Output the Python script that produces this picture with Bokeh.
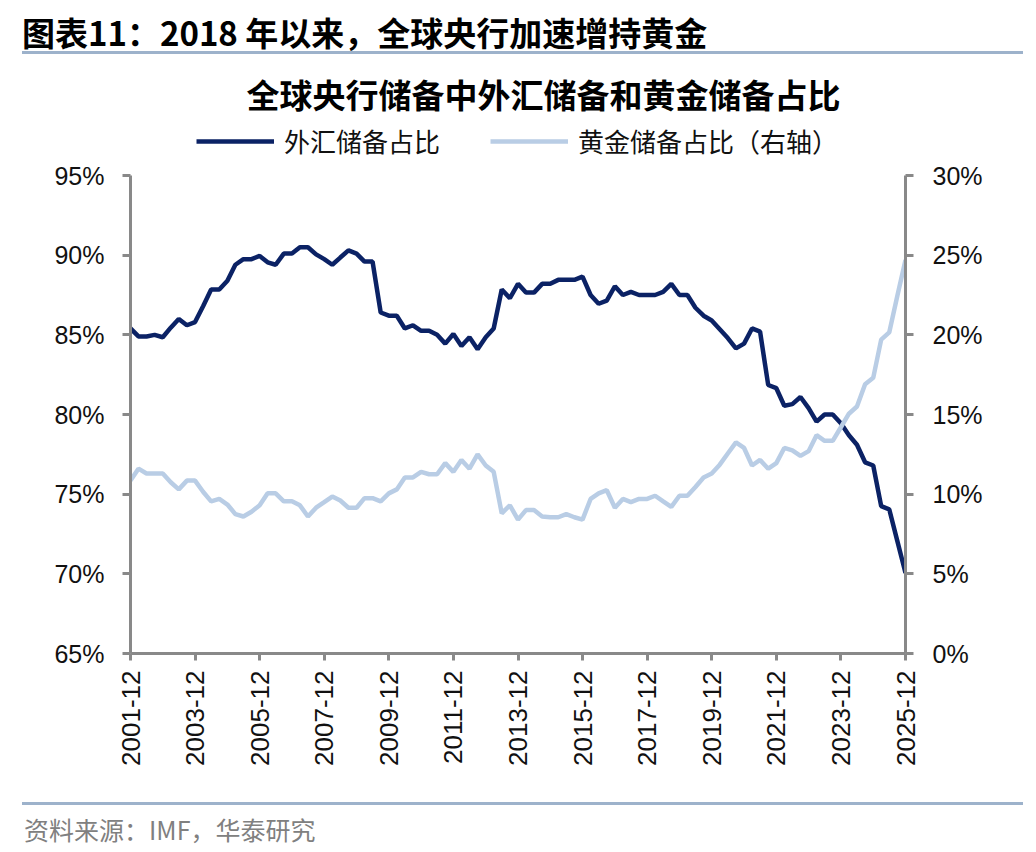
import pandas as pd
from bokeh.plotting import figure
from bokeh.layouts import column
from bokeh.models import (Range1d, LinearAxis, FixedTicker, PrintfTickFormatter,
                          DatetimeTickFormatter, Legend, LegendItem, Label, Div)
from bokeh.embed import file_html
from bokeh.resources import INLINE

# Quarter-end dates, 2001-12 .. 2025-12
dates = pd.date_range("2001-12-31", "2025-12-31", freq="QE")

# Share of FX reserves in central-bank reserves (%, left axis)
fx_share = [
    85.4, 84.9, 84.9, 85.0, 84.85, 85.45, 86.0, 85.6, 85.8, 86.8,
    87.85, 87.85, 88.4, 89.4, 89.75, 89.75, 89.95, 89.55, 89.4, 90.1,
    90.1, 90.5, 90.5, 90.05, 89.75, 89.4, 89.85, 90.3, 90.1, 89.6,
    89.6, 86.4, 86.2, 86.2, 85.4, 85.6, 85.25, 85.25, 85.0, 84.45,
    85.05, 84.3, 84.85, 84.1, 84.85, 85.4, 87.85, 87.3, 88.2, 87.65,
    87.65, 88.2, 88.2, 88.45, 88.45, 88.45, 88.65, 87.5, 86.95, 87.15,
    88.05, 87.5, 87.7, 87.5, 87.5, 87.5, 87.7, 88.2, 87.5, 87.5,
    86.7, 86.2, 85.9, 85.35, 84.8, 84.15, 84.45, 85.4, 85.2, 81.85,
    81.65, 80.55, 80.65, 81.1, 80.4, 79.55, 80.0, 80.0, 79.45, 78.7,
    78.1, 77.0, 76.8, 74.25, 74.05, 72.05, 70.05,
]

# Share of gold in central-bank reserves (%, right axis)
gold_share = [
    10.85, 11.6, 11.3, 11.3, 11.3, 10.75, 10.3, 10.85, 10.85, 10.15,
    9.55, 9.7, 9.35, 8.75, 8.6, 8.9, 9.3, 10.05, 10.05, 9.55,
    9.55, 9.3, 8.6, 9.15, 9.5, 9.85, 9.6, 9.15, 9.15, 9.75,
    9.75, 9.55, 10.05, 10.3, 11.05, 11.05, 11.4, 11.25, 11.25, 11.95,
    11.4, 12.15, 11.6, 12.5, 11.8, 11.4, 8.8, 9.3, 8.4, 9.0,
    9.0, 8.6, 8.55, 8.55, 8.75, 8.55, 8.4, 9.7, 10.05, 10.25,
    9.15, 9.7, 9.5, 9.7, 9.7, 9.9, 9.55, 9.2, 9.9, 9.9,
    10.45, 11.05, 11.3, 11.85, 12.55, 13.25, 12.9, 11.8, 12.15, 11.6,
    11.95, 12.9, 12.75, 12.4, 12.7, 13.7, 13.35, 13.35, 14.2, 15.05,
    15.5, 16.9, 17.3, 19.7, 20.15, 22.45, 24.7,
]

left_ticks = [65, 70, 75, 80, 85, 90, 95]
right_ticks = [0, 5, 10, 15, 20, 25, 30]

fx_name = "外汇储备占比"
gold_name = "黄金储备占比（右轴）"
heading = "图表11：2018 年以来，全球央行加速增持黄金"
chart_title = "全球央行储备中外汇储备和黄金储备占比"
source_note = "资料来源：IMF，华泰研究"

NAVY = "#0b2265"
LIGHT = "#b9cde5"
AXIS = "#898989"
RULE = "#9db2cb"
CJK = "Noto Sans CJK SC"
LATIN = "Liberation Sans"
W = 1036
HEAD_H, FOOT_H = 62, 62

# plot geometry (px): axes occupy AXIS_H, with a headroom band above them
# inside the frame that holds the chart title and the legend
AXIS_H = 478
HEADROOM = 113
FRAME_H = AXIS_H + HEADROOM

L_LO, L_HI = left_ticks[0], left_ticks[-1]
R_LO, R_HI = right_ticks[0], right_ticks[-1]
l_top = L_HI + (L_HI - L_LO) * HEADROOM / AXIS_H
r_top = R_HI + (R_HI - R_LO) * HEADROOM / AXIS_H

# ---- heading strip: report caption with a rule beneath it
head = Div(width=W, height=HEAD_H, margin=0, text=f"""
<div style="position:relative;width:{W}px;height:{HEAD_H}px;font-family:'{CJK}';">
  <div style="position:absolute;left:22px;top:12px;font-size:33px;font-weight:bold;
              line-height:40px;color:#000;white-space:nowrap;">{heading}</div>
  <div style="position:absolute;left:22px;top:51px;width:1001px;height:3px;
              background:{RULE};"></div>
</div>""")

# ---- main chart
p = figure(frame_width=775, frame_height=FRAME_H, x_axis_type="datetime", title=None,
           output_backend="svg", toolbar_location=None,
           min_border_left=130, min_border_right=131,
           min_border_top=0, min_border_bottom=137,
           x_range=Range1d(dates[0], dates[-1]),
           y_range=Range1d(L_LO, l_top))
p.outline_line_color = None
p.grid.visible = False
p.extra_y_ranges = {"gold": Range1d(R_LO, r_top)}

r_fx = p.line(dates, fx_share, line_color=NAVY, line_width=4.5)
r_gold = p.line(dates, gold_share, line_color=LIGHT, line_width=4.5,
                y_range_name="gold")


def style_axis(ax, standoff, size):
    ax.axis_line_color = AXIS
    ax.axis_line_width = 3
    ax.major_tick_line_color = AXIS
    ax.major_tick_line_width = 3
    ax.major_tick_in = 0
    ax.major_tick_out = 8
    ax.minor_tick_line_color = None
    ax.major_label_text_font = LATIN
    ax.major_label_text_font_size = size
    ax.major_label_text_color = "#111111"
    ax.major_label_standoff = standoff


yl = p.yaxis[0]
yl.ticker = FixedTicker(ticks=left_ticks)
yl.formatter = PrintfTickFormatter(format="%d%%")
yl.bounds = (L_LO, L_HI)
style_axis(yl, 18, "25px")

yr = LinearAxis(y_range_name="gold", ticker=FixedTicker(ticks=right_ticks),
                formatter=PrintfTickFormatter(format="%d%%"), bounds=(R_LO, R_HI))
style_axis(yr, 19, "25px")
p.add_layout(yr, "right")

xa = p.xaxis[0]
tick_ms = [d.value // 10**6 for d in dates[::8]]
xa.ticker = FixedTicker(ticks=tick_ms)
fmt = "%Y-%m"
xa.formatter = DatetimeTickFormatter(
    milliseconds=fmt, seconds=fmt, minsec=fmt, minutes=fmt, hourmin=fmt,
    hours=fmt, days=fmt, months=fmt, years=fmt)
xa.major_label_orientation = 3.14159265 / 2
style_axis(xa, 10, "26px")
xa.major_tick_out = 7

legend = Legend(
    items=[LegendItem(label=fx_name, renderers=[r_fx]),
           LegendItem(label=gold_name, renderers=[r_gold])],
    orientation="horizontal", location=(66, AXIS_H + 16),
    border_line_color=None, background_fill_alpha=0,
    glyph_width=78, glyph_height=20, label_standoff=10, spacing=50,
    padding=5, margin=0,
    label_text_font=CJK, label_text_font_size="26px", label_text_color="#111111")
p.add_layout(legend)

p.add_layout(Label(x=543, y=31, x_units="canvas", y_units="canvas", text=chart_title,
                   text_font=CJK, text_font_size="33px", text_font_style="bold",
                   text_color="#000000", text_align="center", text_baseline="middle"))

# ---- footer strip: rule and source note
foot = Div(width=W, height=FOOT_H, margin=0, text=f"""
<div style="position:relative;width:{W}px;height:{FOOT_H}px;font-family:'{CJK}';">
  <div style="position:absolute;left:22px;top:12px;width:1001px;height:3px;
              background:{RULE};"></div>
  <div style="position:absolute;left:24px;top:23px;font-size:25px;line-height:32px;
              color:#808080;white-space:nowrap;">{source_note}</div>
</div>""")

layout = column(head, p, foot, spacing=0)
open("out.html", "w").write(file_html(layout, INLINE))
